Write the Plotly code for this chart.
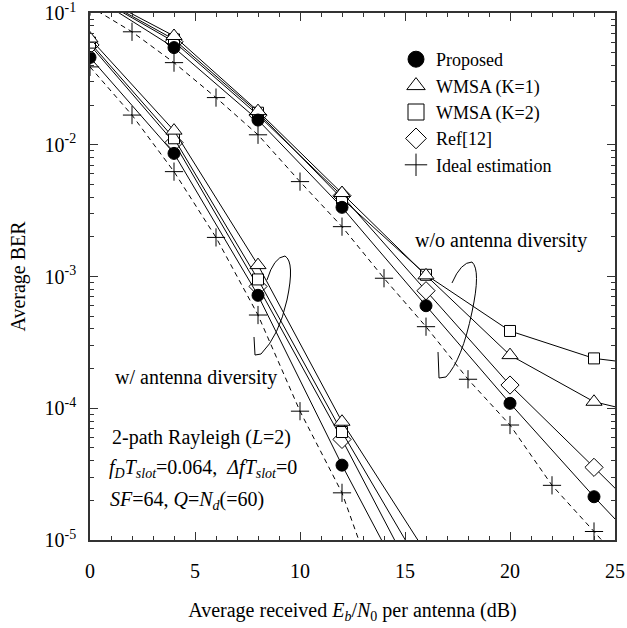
import plotly.graph_objects as go

# ---------------- data ----------------
snr_div = [0, 4, 8, 12, 16]
proposed_div = [0.046, 0.0086, 0.00072, 3.7e-5, 2.3e-6]
wmsa1_div = [0.064, 0.0128, 0.00122, 7.9e-5, 8.0e-6]
wmsa2_div = [0.0596, 0.0112, 0.00095, 6.6e-5, 5.4e-6]
ref12_div = [0.0572, 0.0104, 0.00084, 5.8e-5, 3.5e-6]
snr_ideal_div = [0, 2, 4, 6, 8, 10, 12, 14]
ideal_div = [0.039, 0.0168, 0.00625, 0.00198, 0.00051, 9.5e-5, 2.28e-5, 2.9e-6]

snr_nodiv = [0, 4, 8, 12, 16, 20, 24, 28]
proposed_nodiv = [0.138, 0.0546, 0.0154, 0.00335, 0.0006, 0.000109, 2.13e-5, 4.5e-6]
wmsa1_nodiv = [0.145, 0.0669, 0.018, 0.0043, 0.00102, 0.000253, 0.000112, 7.9e-5]
wmsa2_nodiv = [0.142, 0.063, 0.0175, 0.0039, 0.00103, 0.000386, 0.000239, 0.0002]
ref12_nodiv = [0.14, 0.0605, 0.0168, 0.0041, 0.00078, 0.00015, 3.56e-5, 8.3e-6]
snr_ideal_nodiv = [0, 2, 4, 6, 8, 10, 12, 14, 16, 18, 20, 22, 24, 26]
ideal_nodiv = [0.112, 0.072, 0.042, 0.0228, 0.0119, 0.00525, 0.00239, 0.00097,
               0.000416, 0.000166, 7.46e-5, 2.6e-5, 1.16e-5, 5.1e-6]

series_names = ["Proposed", "WMSA (K=1)", "WMSA (K=2)", "Ref[12]", "Ideal estimation"]
x_ticks = [0, 5, 10, 15, 20, 25]
y_ticks = [1e-5, 1e-4, 1e-3, 1e-2, 1e-1]
y_ticklabels = ["10<sup>-5</sup>", "10<sup>-4</sup>", "10<sup>-3</sup>", "10<sup>-2</sup>", "10<sup>-1</sup>"]

FONT = "Liberation Serif"

styles = {
    "Proposed": dict(symbol="circle", size=12, color="black", line=dict(color="black", width=1)),
    "WMSA (K=1)": dict(symbol="triangle-up", size=14, color="white", line=dict(color="black", width=1)),
    "WMSA (K=2)": dict(symbol="square", size=11, color="white", line=dict(color="black", width=1)),
    "Ref[12]": dict(symbol="diamond", size=14, color="white", line=dict(color="black", width=1)),
    "Ideal estimation": dict(symbol="cross-thin", size=13, color="black", line=dict(color="black", width=1)),
}

fig = go.Figure()

groups = [
    ("Ideal estimation", snr_ideal_nodiv, ideal_nodiv, "5px,4px"),
    ("Ideal estimation", snr_ideal_div, ideal_div, "5px,4px"),
    ("Ref[12]", snr_nodiv, ref12_nodiv, "solid"),
    ("Ref[12]", snr_div, ref12_div, "solid"),
    ("WMSA (K=2)", snr_nodiv, wmsa2_nodiv, "solid"),
    ("WMSA (K=2)", snr_div, wmsa2_div, "solid"),
    ("WMSA (K=1)", snr_nodiv, wmsa1_nodiv, "solid"),
    ("WMSA (K=1)", snr_div, wmsa1_div, "solid"),
    ("Proposed", snr_nodiv, proposed_nodiv, "solid"),
    ("Proposed", snr_div, proposed_div, "solid"),
]
for name, xs, ys, dash in groups:
    fig.add_trace(go.Scatter(
        x=xs, y=ys, mode="lines+markers", name=name, showlegend=False,
        line=dict(color="black", width=1, dash=dash),
        marker=styles[name],
    ))

# legend-only entries (markers only, like the original)
for name in series_names:
    m = dict(styles[name])
    m["size"] = 16
    fig.add_trace(go.Scatter(x=[None], y=[None], mode="markers", name=name,
                             marker=m, showlegend=True))

W, H = 627, 628
L, R, T, B = 90, 615, 13, 540          # plot area in pixels


def px(sx, sy):
    return (sx - L) / (R - L), (B - sy) / (B - T)


def path_from(points):
    s = ""
    for cmd, pts in points:
        coords = " ".join("%.4f,%.4f" % px(a, b) for a, b in pts)
        s += cmd + " " + coords + " "
    return s.strip()


loop_w = path_from([("M", [(267, 280)]), ("Q", [(274, 257), (285, 256)]),
                    ("Q", [(295, 262), (287, 300)]), ("Q", [(279, 336), (261, 354)]),
                    ("L", [(255, 355)]), ("L", [(254, 337)])])
loop_wo = path_from([("M", [(452, 283)]), ("Q", [(461, 262), (472, 262)]),
                     ("Q", [(481, 270), (472, 312)]), ("Q", [(462, 360), (446, 377)]),
                     ("L", [(439, 378)]), ("L", [(438, 352)])])
shapes = [dict(type="path", xref="paper", yref="paper", path=p,
               line=dict(color="black", width=1)) for p in (loop_w, loop_wo)]

annos = []


def add_text(text, sx, sy, anchor="left", angle=0):
    x, y = px(sx, sy)
    annos.append(dict(text=text, x=x, y=y, xref="paper", yref="paper", showarrow=False,
                      xanchor=anchor, yanchor="middle", textangle=angle,
                      font=dict(family=FONT, size=20, color="black")))


NB = "\u00a0"
add_text("w/o antenna diversity", 413, 240)
add_text("w/ antenna diversity", 113, 377)
add_text("2-path Rayleigh" + NB + "(<i>L</i>=2)", 110, 437)
add_text("<i>f</i><sub><i>D</i></sub><i>T</i><sub><i>slot</i></sub>=0.064," + NB + NB +
         "<i>Δf</i><i>T</i><sub><i>slot</i></sub>=0", 107, 468)
add_text("<i>SF</i>=64, <i>Q</i>=<i>N</i><sub><i>d</i></sub>(=60)", 108, 500)
add_text("Average BER", 18, (T + B) / 2, anchor="center", angle=-90)

axis_common = dict(showline=True, linecolor="#333", linewidth=1.5, mirror="allticks",
                   ticks="inside", ticklen=8, tickwidth=1, tickcolor="#333",
                   showgrid=False, zeroline=False, automargin=False,
                   ticklabeloverflow="allow",
                   tickfont=dict(family=FONT, size=20, color="black"))

fig.update_layout(
    width=W, height=H,
    margin=dict(l=L, r=W - R, t=T, b=H - B),
    paper_bgcolor="white", plot_bgcolor="white",
    font=dict(family=FONT, size=20, color="black"),
    showlegend=True,
    legend=dict(x=px(396, 0)[0], y=px(0, 41)[1], xanchor="left", yanchor="top",
                bgcolor="rgba(0,0,0,0)", font=dict(family=FONT, size=18, color="black"),
                itemsizing="trace", tracegroupgap=0),
    xaxis=dict(range=[0, 25], tickvals=x_ticks, ticktext=[str(v) for v in x_ticks],
               minor=dict(tickvals=list(range(0, 26)), ticks="inside", ticklen=4,
                          tickcolor="#333"),
               ticklabelstandoff=12,
               title=dict(text="Average received <i>E</i><sub><i>b</i></sub>/<i>N</i><sub>0</sub> per antenna (dB)",
                          font=dict(family=FONT, size=20, color="black"), standoff=22),
               **axis_common),
    yaxis=dict(type="log", range=[-5, -1], tickvals=y_ticks, ticktext=y_ticklabels,
               minor=dict(tickvals=[m * 10.0 ** e for e in range(-5, -1) for m in range(2, 10)],
                          ticks="inside", ticklen=4, tickcolor="#333"),
               ticklabelstandoff=8,
               **axis_common),
    shapes=shapes,
    annotations=annos,
)

# remove the default page margin so the figure fills the window exactly
fig.write_html("out.html", config={"displayModeBar": False},
               post_script="document.body.style.margin='0';")
